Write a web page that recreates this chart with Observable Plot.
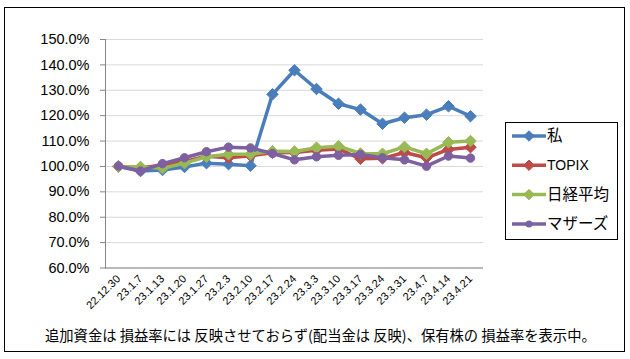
<!DOCTYPE html>
<html>
<head>
<meta charset="utf-8">
<script src="https://cdn.jsdelivr.net/npm/d3@7"></script>
<script src="https://cdn.jsdelivr.net/npm/@observablehq/plot@0.6"></script>
<style>
  html, body { margin: 0; padding: 0; background: #fff; }
  #wrap { position: relative; width: 630px; height: 359px; overflow: hidden; font-family: "Liberation Sans", Arial, sans-serif; }
  #border { position: absolute; left: 4px; top: 7px; width: 621px; height: 345px; box-sizing: border-box; border: 1px solid #000; }
  #chart { position: absolute; left: 0; top: 0; }
  #legend { position: absolute; left: 505px; top: 122px; }
  #caption { position: absolute; left: 45px; top: 325px; font-family: "Noto Sans CJK JP", sans-serif; font-size: 14.3px; line-height: 20px; color: #000; white-space: nowrap; }
</style>
</head>
<body>
<div id="wrap">
  <div id="border"></div>
  <div id="chart"></div>
  <div id="legend"></div>
  <div id="caption">追加資金は 損益率には 反映させておらず(配当金は 反映)、保有株の 損益率を表示中。</div>
</div>
<script>
const dates = ["22.12.30","23.1.7","23.1.13","23.1.20","23.1.27","23.2.3","23.2.10","23.2.17","23.2.24","23.3.3","23.3.10","23.3.17","23.3.24","23.3.31","23.4.7","23.4.14","23.4.21"];
const watashi = [100.0, 98.2, 98.6, 99.8, 101.3, 100.9, 100.3, 128.4, 137.9, 130.5, 124.7, 122.4, 116.8, 119.2, 120.4, 123.7, 119.8];
const topix   = [100.0, 99.5, 100.5, 102.0, 104.0, 103.4, 104.2, 105.4, 105.5, 106.4, 106.9, 103.0, 103.2, 105.5, 103.4, 106.7, 107.6];
const nikkei  = [100.0, 99.8, 99.3, 101.3, 103.8, 104.8, 104.8, 106.0, 105.9, 107.4, 108.0, 105.1, 105.0, 107.7, 105.0, 109.5, 110.0];
const mothers = [100.2, 98.2, 101.1, 103.4, 105.8, 107.6, 107.3, 105.1, 102.6, 103.8, 104.4, 104.7, 103.4, 102.6, 100.1, 104.1, 103.3];
const seriesNames = ["私", "TOPIX", "日経平均", "マザーズ"];
const seriesColors = ["#4A7EBB", "#BE4B48", "#98B954", "#7D60A0"];
const seriesSymbols = ["diamond2", "diamond2", "diamond2", "circle"];
const yTicks = [60, 70, 80, 90, 100, 110, 120, 130, 140, 150];

const allSeries = [watashi, topix, nikkei, mothers];
const rows = [];
allSeries.forEach((vals, si) => vals.forEach((v, i) => rows.push({series: seriesNames[si], date: dates[i], value: v})));

const marks = [
  Plot.gridY(yTicks, {stroke: "#D9D9D9", strokeOpacity: 1}),
  Plot.ruleY([60], {stroke: "#868686"}),
  Plot.frame({anchor: "left", stroke: "#868686"}),
  Plot.axisY(yTicks, {tickFormat: d => d.toFixed(1) + "%", tickSize: 5, tickPadding: 11, fontSize: 14.5, stroke: "#868686", color: "#000"}),
  Plot.axisX({tickRotate: -45, tickSize: 0, tickPadding: 9, fontSize: 11})
];
seriesNames.forEach((name, si) => {
  const d = rows.filter(r => r.series === name);
  marks.push(Plot.line(d, {x: "date", y: "value", stroke: seriesColors[si], strokeWidth: 3.5, strokeLinejoin: "round"}));
  marks.push(Plot.dot(d, {x: "date", y: "value", symbol: seriesSymbols[si], fill: seriesColors[si], stroke: seriesColors[si], strokeWidth: 1, r: si === 3 ? 4.2 : 5.2}));
});

const H = 322;
const chart = Plot.plot({
  width: 630,
  height: H,
  marginLeft: 105,
  marginRight: 147,
  marginTop: 39,
  marginBottom: H - 267.5,
  style: {fontFamily: "'Liberation Sans', Arial, sans-serif", color: "#000", background: "transparent", overflow: "visible"},
  x: {type: "point", domain: dates, padding: 0.5, label: null},
  y: {domain: [60, 150], label: null},
  marks
});
document.getElementById("chart").appendChild(chart);

// legend
const lg = d3.select("#legend").append("svg").attr("width", 113).attr("height", 118);
lg.append("rect").attr("x", 0.5).attr("y", 0.5).attr("width", 112).attr("height", 117).attr("fill", "#fff").attr("stroke", "#000");
seriesNames.forEach((name, i) => {
  const cy = 14 + i * 29.3;
  const g = lg.append("g").attr("transform", `translate(0,${cy})`);
  g.append("line").attr("x1", 7).attr("x2", 41).attr("y1", 0).attr("y2", 0).attr("stroke", seriesColors[i]).attr("stroke-width", 3.5);
  if (seriesSymbols[i] === "circle") {
    g.append("circle").attr("cx", 24).attr("cy", 0).attr("r", 3.5).attr("fill", seriesColors[i]);
  } else {
    g.append("path").attr("d", d3.symbol(d3.symbolDiamond2, 70)()).attr("transform", "translate(24,0)").attr("fill", seriesColors[i]).attr("stroke", seriesColors[i]);
  }
  g.append("text").attr("x", 42).attr("y", 0).attr("dy", "0.35em").attr("font-size", i === 1 ? 14 : 15.5)
    .attr("font-family", i === 1 ? "'Liberation Sans', Arial, sans-serif" : "'Noto Sans CJK JP', sans-serif").text(name);
});
</script>
</body>
</html>
